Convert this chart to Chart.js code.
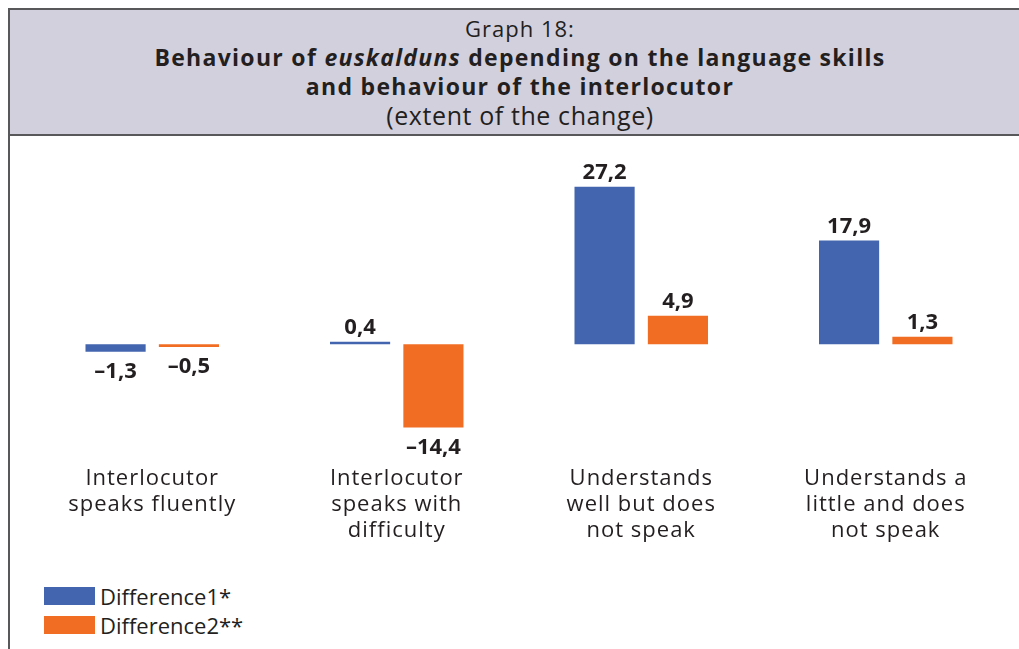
<!DOCTYPE html>
<html>
<head>
<meta charset="utf-8">
<script src="https://cdn.jsdelivr.net/npm/chart.js@4"></script>
<style>
  body { margin: 0; background: #fff; font-family: "Open Sans", sans-serif; color: #231f20; }
  #frame { position: absolute; left: 8px; top: 8px; width: 1030px; height: 700px;
           border-left: 2px solid #58585a; border-top: 2px solid #58585a; }
  #head { position: absolute; left: 0; top: 0; width: 1020px; height: 124px; background: #d3d0de;
          border-bottom: 2px solid #58585a; text-align: center; }
  #head div { position: absolute; left: 0; right: 0; white-space: nowrap; }
  .t1 { top: 3px; font-size: 22px; letter-spacing: 1px; }
  .t2 { top: 31px; font-size: 23px; font-weight: bold; letter-spacing: 1.3px; }
  .t3 { top: 60px; font-size: 23px; font-weight: bold; letter-spacing: 1.3px; }
  .t4 { top: 88px; font-size: 25px; letter-spacing: 0.6px; }
  #wrap { position: absolute; left: 9px; top: 136px; width: 1010px; height: 420px; }
  #legend { position: absolute; left: 44px; top: 581px; font-size: 22px; }
  .item { height: 29px; display: flex; align-items: center; }
  .box { width: 51px; height: 18px; margin-right: 5px; }
</style>
</head>
<body>
<div id="frame">
  <div id="head">
    <div class="t1">Graph 18:</div>
    <div class="t2">Behaviour of <i>euskalduns</i> depending on the language skills</div>
    <div class="t3">and behaviour of the interlocutor</div>
    <div class="t4">(extent of the change)</div>
  </div>
</div>
<div id="wrap"><canvas id="graph18"></canvas></div>
<div id="legend"></div>
<script>
// categories and the two series
const categories = [
    ["Interlocutor", "speaks fluently"],
    ["Interlocutor", "speaks with", "difficulty"],
    ["Understands", "well but does", "not speak"],
    ["Understands a", "little and does", "not speak"]
];
const seriesNames = ["Difference1*", "Difference2**"];
const difference1 = [-1.3, 0.4, 27.2, 17.9];
const difference2 = [-0.5, -14.4, 4.9, 1.3];
const seriesColours = ["#4364ae", "#f26d24"];

// writes 27.2 as 27,2 and -1.3 as –1,3
function formatValue(v) {
    return v.toFixed(1).replace(".", ",").replace("-", "\u2013");
}

// wider spacing for the category names
const spacing = {
    id: "spacing",
    beforeDraw(chart) {
        chart.ctx.letterSpacing = "1px";
    }
};

// draws the value above positive bars and below negative ones
const valueLabels = {
    id: "valueLabels",
    afterDatasetsDraw(chart) {
        const ctx = chart.ctx;
        ctx.save();
        ctx.letterSpacing = "0px";
        ctx.font = "bold 22px 'Open Sans'";
        ctx.fillStyle = "#231f20";
        ctx.textAlign = "center";
        ctx.textBaseline = "alphabetic";
        chart.data.datasets.forEach((ds, i) => {
            chart.getDatasetMeta(i).data.forEach((bar, j) => {
                let v = ds.data[j];
                if (v >= 0) {
                    ctx.fillText(formatValue(v), bar.x, bar.y - 8);
                } else {
                    ctx.fillText(formatValue(v), bar.x, bar.y + 26);
                }
            });
        });
        ctx.restore();
    }
};

let graph = new Chart("graph18", {
    type: "bar",
    data: {
        labels: categories,
        datasets: [
            { label: seriesNames[0], data: difference1, backgroundColor: seriesColours[0] },
            { label: seriesNames[1], data: difference2, backgroundColor: seriesColours[1] }
        ]
    },
    options: {
        responsive: true,
        maintainAspectRatio: false,
        animation: false,
        categoryPercentage: 0.6,
        barPercentage: 0.82,
        layout: { padding: { left: 21, right: 11, top: 23, bottom: 8 } },
        plugins: {
            legend: { display: false },
            tooltip: { enabled: false }
        },
        scales: {
            x: {
                grid: { display: false },
                border: { display: false },
                ticks: {
                    color: "#231f20",
                    padding: 4,
                    maxRotation: 0,
                    autoSkip: false,
                    font: { family: "'Open Sans'", size: 22, lineHeight: 1.18 }
                }
            },
            y: {
                display: false,
                min: -19,
                max: 32
            }
        }
    },
    plugins: [spacing, valueLabels]
});

// legend listed under the chart
let legend = document.getElementById("legend");
seriesNames.forEach((name, i) => {
    legend.innerHTML += '<div class="item"><div class="box" style="background:' + seriesColours[i] + '"></div>' + name + '</div>';
});
</script>
</body>
</html>
